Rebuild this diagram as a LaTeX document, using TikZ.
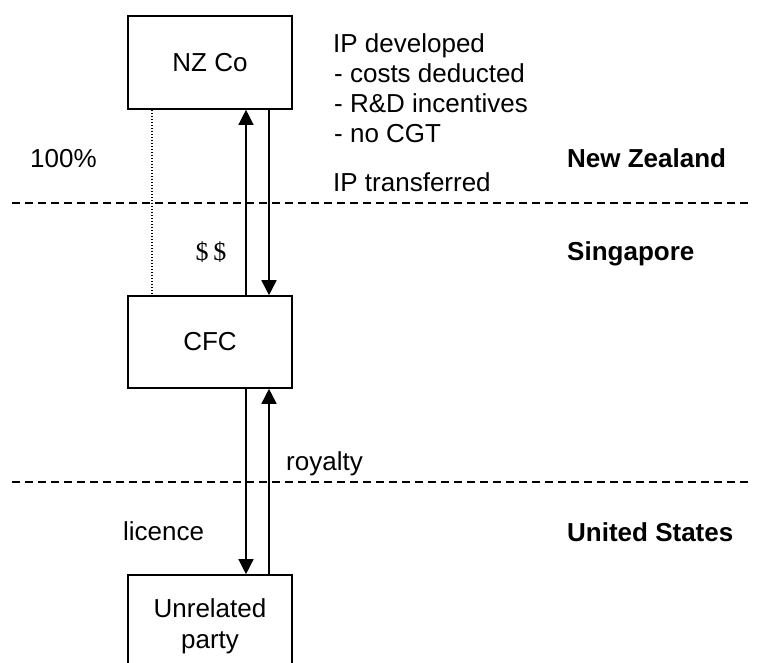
\documentclass[tikz,border=0pt]{standalone}
\usepackage{fontspec}
\setmainfont{Liberation Sans}
\newfontfamily\moneyfont{Liberation Serif}
\usetikzlibrary{arrows.meta}
\begin{document}
\begin{tikzpicture}[x=1pt,y=-1pt,
  every node/.style={font=\fontsize{26}{31}\selectfont, inner sep=0pt},
  entity/.style={draw, line width=1.6pt, minimum width=164pt, minimum height=93pt, align=center},
  border/.style={dash pattern=on 8pt off 5pt, line width=1.4pt},
  flow/.style={-{Triangle[width=15pt,length=15pt]}, line width=1.6pt},
  owner/.style={dash pattern=on 1.4pt off 1.6pt, line width=1.4pt},
  lbl/.style={anchor=base west},
  region/.style={anchor=base west, font=\fontsize{26}{31}\selectfont\bfseries}]
\useasboundingbox (0,0) rectangle (761,662);
\clip (0,0) rectangle (761,662);

% entities
\node[entity] (nz) at (210,62.5) {NZ Co};
\node[entity, minimum height=92pt] (cfc) at (210,342) {CFC};
\node[entity, minimum height=102pt] (ur) at (210,626) {Unrelated\\party};

% columns for the connectors
\coordinate (dcol) at (152,0);
\coordinate (lcol) at (246,0);
\coordinate (rcol) at (269,0);

% ownership link
\draw[owner] (nz.south -| dcol) -- (cfc.north -| dcol);

% flows between entities
\draw[flow, line width=1.3pt] (cfc.north -| lcol) -- (nz.south -| lcol);
\draw[flow] (nz.south -| rcol) -- (cfc.north -| rcol);
\draw[flow, line width=1.3pt] (cfc.south -| lcol) -- (ur.north -| lcol);
\draw[flow] (ur.north -| rcol) -- (cfc.south -| rcol);

% jurisdiction borders
\coordinate (b1l) at (12,203);
\coordinate (b1r) at (748,203);
\coordinate (b2l) at (12,482);
\coordinate (b2r) at (748,482);
\draw[border] (b1l) -- (b1r);
\draw[border] (b2l) -- (b2r);

% notes
\node[lbl] (dev)  at (333,52)  {IP developed};
\node[lbl] (ded)  at (334,82)  {- costs deducted};
\node[lbl] (rnd)  at (334,112) {- R\&D incentives};
\node[lbl] (cgt)  at (334,142) {- no CGT};
\node[lbl] (xfer) at (333,191) {IP transferred};
\node[lbl] (pct)  at (30,167)  {100\%};
\node[anchor=base] (money) at (211,260) {\moneyfont\$\kern5pt\$};
\node[lbl] (roy)  at (286,470) {royalty};
\node[lbl] (lic)  at (123,540) {licence};

% jurisdictions
\node[region] (nzl) at (567,167) {New Zealand};
\node[region] (sgl) at (567,260) {Singapore};
\node[region] (usl) at (567,541) {United States};
\end{tikzpicture}
\end{document}
